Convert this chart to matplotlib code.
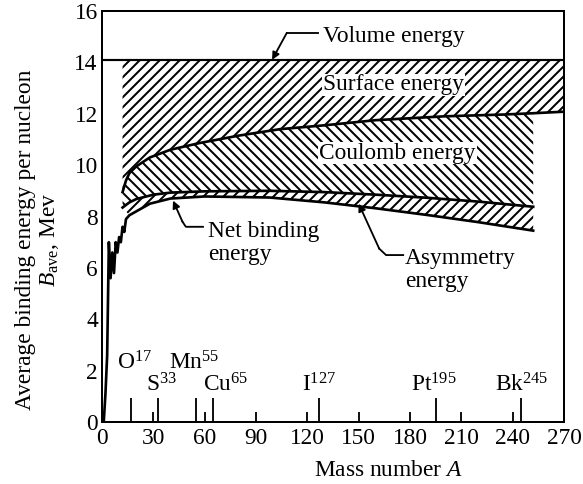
import matplotlib.pyplot as plt
import numpy as np

# values
volume = 14.1

A_surf = [12, 14, 16, 20, 28, 40, 57, 80, 104, 130, 160, 200, 235, 252, 270]
B_surf = [8.95, 9.4, 9.69, 9.95, 10.3, 10.6, 10.86, 11.15, 11.4, 11.55, 11.75, 11.9, 11.97, 12.02, 12.08]

A_asym = [12, 16, 20, 30, 40, 60, 98, 130, 160, 190, 220, 252]
B_asym = [8.35, 8.55, 8.68, 8.85, 8.93, 8.98, 9.0, 8.95, 8.85, 8.73, 8.58, 8.38]

A_net = [1, 2, 3, 4, 5, 6, 7, 8, 9, 10, 11, 12, 13, 14, 16, 20, 28, 40, 60, 98, 130, 160, 190, 220, 252]
B_net = [0, 1.1, 2.6, 7.0, 5.6, 6.6, 5.8, 7.0, 6.6, 7.2, 7.0, 7.6, 7.4, 7.9, 8.05, 8.2, 8.5,
         8.7, 8.78, 8.74, 8.55, 8.32, 8.06, 7.78, 7.45]

elem_names = ['O', 'S', 'Mn', 'Cu', 'I', 'Pt', 'Bk']
elem_A = [17, 33, 55, 65, 127, 195, 245]

x_ticks = [0, 30, 60, 90, 120, 150, 180, 210, 240, 270]
y_ticks = [0, 2, 4, 6, 8, 10, 12, 14, 16]

plt.rcParams['font.family'] = 'Liberation Serif'
plt.rcParams['mathtext.fontset'] = 'custom'
plt.rcParams['mathtext.rm'] = 'Liberation Serif'
plt.rcParams['mathtext.it'] = 'Liberation Serif:italic'
plt.rcParams['hatch.linewidth'] = 2.4
plt.rcParams['hatch.color'] = 'black'

DPI = 60
fs = 28
fig = plt.figure(figsize=(583 / DPI, 484 / DPI), dpi=DPI)
ax = fig.add_axes([0.175, 0.128, 0.7924, 0.8493])

# hatched bands
ax.fill_between(A_surf, B_surf, volume, facecolor='none', edgecolor='black', hatch='//', linewidth=0)

surf_x = [a for a in A_surf if a <= 252]
surf_y = [b for a, b in zip(A_surf, B_surf) if a <= 252]
ax.fill(surf_x + A_asym[::-1], surf_y + B_asym[::-1],
        facecolor='none', edgecolor='black', hatch='\\\\', linewidth=0)

net_x = [a for a in A_net if a >= 16]
net_y = [b for a, b in zip(A_net, B_net) if a >= 16]
ax.fill(A_asym + net_x[::-1], B_asym + net_y[::-1],
        facecolor='none', edgecolor='black', hatch='//', linewidth=0)

# boundary curves
ax.axhline(volume, color='black', lw=2.6)
ax.plot(A_surf, B_surf, color='black', lw=3.2)
ax.plot(A_asym, B_asym, color='black', lw=3.2)
ax.plot(A_net, B_net, color='black', lw=3.2)

# element markers along the A axis
ax.vlines(elem_A, 0, 0.93, color='black', lw=2.2)
label_x = [19, 35, 54, 72, 127, 194, 245]
label_y = [2.3, 1.44, 2.3, 1.44, 1.44, 1.44, 1.44]
for name, a, lx, ly in zip(elem_names, elem_A, label_x, label_y):
    ax.text(lx, ly, name + r'$^{%d}$' % a, ha='center', va='center', fontsize=fs)

# labels and leaders
arrow = dict(arrowstyle='-|>', color='black', lw=2.2, mutation_scale=18, shrinkA=0, shrinkB=0)
blank = dict(facecolor='white', edgecolor='none', pad=1)
ax.text(129, 15.0, 'Volume energy', ha='left', va='center', fontsize=fs)
ax.plot([126, 108], [15.15, 15.15], color='black', lw=2.2)
ax.annotate('', xy=(99.4, volume), xytext=(108, 15.15), arrowprops=arrow)

ax.text(129, 13.12, 'Surface energy', ha='left', va='center', fontsize=fs, bbox=blank)
ax.text(127, 10.47, 'Coulomb energy', ha='left', va='center', fontsize=fs, bbox=blank)

ax.text(62, 6.97, 'Net binding\nenergy', ha='left', va='center', fontsize=fs, linespacing=1.1)
ax.plot([59, 49, 47], [7.6, 7.6, 7.8], color='black', lw=2.2)
ax.annotate('', xy=(41.5, 8.62), xytext=(47, 7.8), arrowprops=arrow)

ax.text(177, 5.92, 'Asymmetry\nenergy', ha='left', va='center', fontsize=fs, linespacing=1.1)
ax.plot([176, 166, 162], [6.5, 6.5, 6.75], color='black', lw=2.2)
ax.annotate('', xy=(150, 8.5), xytext=(162, 6.75), arrowprops=arrow)

ax.set_xlim(0, 270)
ax.set_ylim(0, 16)
ax.set_xticks(x_ticks)
ax.set_yticks(y_ticks)
ax.tick_params(axis='x', direction='in', length=12, width=2.2, pad=7, labelsize=fs)
ax.tick_params(axis='y', length=0, pad=5, labelsize=fs)
for s in ax.spines.values():
    s.set_linewidth(2.4)

fig.text(388 / 583, 1 - 470 / 484, 'Mass number $A$', ha='center', va='center', fontsize=fs)
fig.text(38 / 583, 1 - 240 / 484, 'Average binding energy per nucleon\n$B_{\\rm ave}$, Mev',
         ha='center', va='center', rotation=90, fontsize=fs, linespacing=1.15)

fig.savefig('out.png', dpi=DPI)
